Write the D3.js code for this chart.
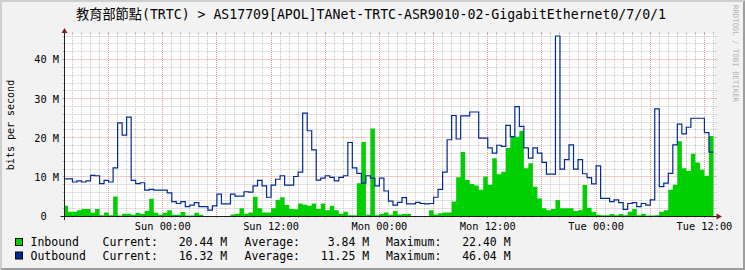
<!DOCTYPE html>
<html><head><meta charset="utf-8">
<script src="https://cdn.jsdelivr.net/npm/d3@7"></script>
<style>html,body{margin:0;padding:0;background:#F2F2F2;} svg{display:block;} text{white-space:pre;}</style>
</head><body><svg id="c" width="745" height="270"></svg>
<script>
// ---------- data ----------
const title = "教育部節點(TRTC) > AS17709[APOL]TANet-TRTC-ASR9010-02-GigabitEthernet0/7/0/1";
const yAxisTitle = "bits per second";
const watermark = "RRDTOOL / TOBI OETIKER";
const seriesNames = ["Inbound", "Outbound"];
const seriesColors = ["#00CF00", "#002A97"];
const firstSample = "2022-12-31T13:00:00Z";   // Sat 13:00, 30-minute samples
const stepMinutes = 30;
const viewStart = "2022-12-31T13:07:00Z";
const viewHours = 72;
const yMax = 46.55;                          // Mbit/s at top of canvas
const yMajorTicks = [0, 10, 20, 30, 40];
const yMinorStep = 2;
// Mbit/s
const inbound = [
 2.6,1.1,1.1,1.5,1.8,1.8,0.8,1.8,0.2,0.9,0.2,5.0,0.1,0.6,0.6,0.3,0.8,0.5,1.3,4.4,
 0.8,0.3,0.8,1.5,0.3,0.3,1.0,0.1,0.1,0.8,0.3,0,0,0,0,0,0,0.4,0.6,2.0,
 0.6,0.9,4.9,2.0,0.9,0.9,2.0,4.1,4.8,2.8,1.8,1.7,3.2,2.9,2.6,3.2,1.8,3.2,1.5,2.6,
 1.5,0.6,1.1,0.2,0.2,8.4,18.9,0.3,22.4,0.2,0.6,0.9,0.3,1.3,0.4,0.5,0.5,0,0,0,
 0,1.5,0.4,0.7,0.9,0.9,3.7,9.9,16.4,9.2,8.2,7.8,6.7,10.1,8.0,14.8,10.7,11.3,17.4,20.2,
 20.3,21.8,12.2,13.5,7.5,4.5,2.0,1.5,1.8,4.1,2.0,2.0,2.0,1.3,1.5,7.9,2.1,1.1,0.3,0.2,
 0.2,0.5,0.2,0.5,0.2,1.1,1.8,0.2,0.6,0.1,0.1,0.2,1.1,1.5,6.7,8.0,19.1,12.2,11.5,15.9,
 13.7,11.8,10.3,20.44
];
const outbound = [
 9.5,9.5,8.7,9.0,8.7,9.0,10.4,10.3,8.3,9.1,8.7,12.3,23.8,20.7,25.3,9.1,8.3,8.5,6.6,6.8,
 6.6,6.6,6.6,5.9,3.7,3.2,3.7,2.4,2.8,3.4,2.4,2.4,1.5,2.6,5.6,3.1,3.1,5.6,5.1,5.1,
 6.2,6.1,7.7,9.1,7.7,4.8,7.9,9.4,10.3,7.9,7.9,10.1,11.2,26.3,21.8,16.9,9.2,9.7,10.3,9.9,
 9.0,9.9,10.3,18.8,12.3,10.9,8.4,10.3,9.7,7.7,9.7,6.4,3.8,2.8,3.5,4.7,3.1,3.1,3.5,3.2,
 3.1,3.2,4.8,6.8,11.2,19.5,25.7,19.7,25.6,25.6,26.6,26.6,19.9,19.9,17.4,16.1,18.1,17.8,23.2,20.3,
 28.0,22.9,17.4,14.8,17.4,16.1,13.7,10.7,10.7,46.04,12.0,14.4,18.2,12.0,14.4,10.8,9.8,8.2,12.8,4.5,
 4.5,3.7,4.1,3.4,1.7,3.2,3.4,2.4,3.2,2.8,4.1,27.4,7.5,8.4,10.9,18.2,23.5,21.0,22.7,25.0,
 25.0,25.0,21.3,16.32
];
const statLabels = ["Current:", "Average:", "Maximum:"];
const inboundStats = [20.44, 3.84, 22.40];
const outboundStats = [16.32, 11.25, 46.04];

// ---------- layout ----------
const X0 = 64.5, X1 = 714.5, Y0 = 216, Y1 = 34;
const mono = '"DejaVu Sans Mono","Noto Sans CJK TC",monospace';
const svg = d3.select("#c");

const t0 = new Date(viewStart);
const t1 = new Date(t0.getTime() + viewHours * 3600e3);
const x = d3.scaleUtc().domain([t0, t1]).range([X0, X1]);
const y = d3.scaleLinear().domain([0, yMax]).range([Y0, Y1]);

const s0 = new Date(firstSample).getTime();
const times = d3.range(inbound.length + 1).map(i => new Date(s0 + i * stepMinutes * 60e3));
const pts = arr => times.map((t, i) => ({t, v: arr[Math.min(i, arr.length - 1)]}));

// background + shading frame
svg.append("rect").attr("width", 745).attr("height", 270).attr("fill", "#F2F2F2");
svg.append("path").attr("d", "M0,0H745L743,2H2V268L0,270Z").attr("fill", "#CFCFCF");
svg.append("path").attr("d", "M745,0V270H0L2,268H743V2Z").attr("fill", "#9E9E9E");

// canvas
svg.append("rect").attr("x", X0).attr("y", Y1).attr("width", X1 - X0).attr("height", Y0 - Y1).attr("fill", "#fff");
svg.append("clipPath").attr("id", "clip").append("rect")
  .attr("x", X0).attr("y", Y1 - 2).attr("width", X1 - X0).attr("height", Y0 - Y1 + 2);

const crisp = v => Math.floor(v) + 0.5;
const grid = svg.append("g");
// vertical grid
const hours = d3.utcHour.range(d3.utcHour.ceil(t0), t1);
hours.forEach(h => {
  const major = h.getUTCHours() % 6 === 0;
  const xx = crisp(x(h));
  grid.append("line").attr("x1", xx).attr("x2", xx).attr("y1", Y1).attr("y2", Y0)
    .attr("stroke", major ? "#E99595" : "#C4C4C4").attr("stroke-dasharray", "1,1");
  grid.append("line").attr("x1", xx).attr("x2", xx).attr("y1", Y0).attr("y2", Y0 + 2)
    .attr("stroke", major ? "#E99595" : "#C4C4C4");
  grid.append("line").attr("x1", xx).attr("x2", xx).attr("y1", Y1 - 2).attr("y2", Y1)
    .attr("stroke", major ? "#E99595" : "#C4C4C4");
});
// horizontal grid
d3.range(yMinorStep, yMax, yMinorStep).forEach(v => {
  const major = v % 10 === 0;
  const yy = crisp(y(v));
  grid.append("line").attr("x1", X0).attr("x2", X1).attr("y1", yy).attr("y2", yy)
    .attr("stroke", major ? "#E99595" : "#C4C4C4").attr("stroke-dasharray", "1,1");
  grid.append("line").attr("x1", X0 - 2).attr("x2", X0).attr("y1", yy).attr("y2", yy)
    .attr("stroke", major ? "#E99595" : "#C4C4C4");
  grid.append("line").attr("x1", X1).attr("x2", X1 + 2).attr("y1", yy).attr("y2", yy)
    .attr("stroke", major ? "#E99595" : "#C4C4C4");
});

// series
const plot = svg.append("g").attr("clip-path", "url(#clip)");
const area = d3.area().x(d => x(d.t)).y0(y(0)).y1(d => y(d.v)).curve(d3.curveStepAfter);
const line = d3.line().x(d => x(d.t)).y(d => y(d.v)).curve(d3.curveStepAfter);
plot.append("path").attr("d", area(pts(inbound))).attr("fill", seriesColors[0]);
plot.append("path").attr("d", line(pts(outbound))).attr("fill", "none")
  .attr("stroke", seriesColors[1]).attr("stroke-width", 1.2);

// axes
const axisCol = "#1F1F1F", arrowCol = "#801F1F";
svg.append("line").attr("x1", X0 - 4).attr("x2", X1 + 3).attr("y1", Y0 + 0.5).attr("y2", Y0 + 0.5).attr("stroke", axisCol);
svg.append("line").attr("x1", X0).attr("x2", X0).attr("y1", Y0 + 4).attr("y2", Y1 - 3).attr("stroke", axisCol);
svg.append("path").attr("d", `M${X1 + 2},${Y0 - 2.5}L${X1 + 7.5},${Y0 + 0.5}L${X1 + 2},${Y0 + 3.5}Z`).attr("fill", arrowCol);
svg.append("path").attr("d", `M${X0 - 3},${Y1 - 1}L${X0},${Y1 - 6}L${X0 + 3},${Y1 - 1}Z`).attr("fill", arrowCol);

// y labels
const axisFont = 10.3, cw = axisFont * 0.602;
yMajorTicks.forEach(v => {
  svg.append("text").attr("x", v === 0 ? 59 - 2 * cw : 59).attr("y", y(v) + 3.8)
    .attr("text-anchor", "end").attr("font-family", mono).attr("font-size", axisFont)
    .attr("fill", "#000").text(v === 0 ? "0" : v + " M");
});
// x labels
const fmt = d3.utcFormat("%a %H:%M");
hours.filter(h => h.getUTCHours() % 12 === 0).forEach(h => {
  svg.append("text").attr("x", x(h)).attr("y", 229.5).attr("text-anchor", "middle")
    .attr("font-family", mono).attr("font-size", axisFont).attr("fill", "#000").text(fmt(h));
});

// y-axis title
svg.append("text").attr("transform", `translate(14,${(Y0 + Y1) / 2}) rotate(-90)`)
  .attr("text-anchor", "middle").attr("font-family", mono).attr("font-size", 10)
  .attr("fill", "#000").text(yAxisTitle);

// title
svg.append("text").attr("x", 371).attr("y", 19).attr("text-anchor", "middle")
  .attr("font-family", mono).attr("font-size", 13.2).attr("fill", "#000").text(title);

// watermark
svg.append("text").attr("transform", "translate(732.5,5) rotate(90)")
  .attr("font-family", mono).attr("font-size", 7.6).attr("fill", "#B4B4B4")
  .attr("textLength", 97).attr("lengthAdjust", "spacingAndGlyphs").text(watermark);

// legend
const legFont = 11.5;
const rows = [inboundStats, outboundStats];
const rowY = [246, 259.5];
const statX = [102.5, 244.6, 386];
rows.forEach((stats, r) => {
  svg.append("rect").attr("x", 15.5).attr("y", rowY[r] - 7.5).attr("width", 7).attr("height", 7)
    .attr("fill", seriesColors[r]).attr("stroke", "#000").attr("stroke-width", 1);
  svg.append("text").attr("x", 30.5).attr("y", rowY[r]).attr("font-family", mono)
    .attr("font-size", legFont).attr("fill", "#000").text(seriesNames[r]);
  stats.forEach((v, k) => {
    const num = v.toFixed(2).padStart(8, " ");
    svg.append("text").attr("x", statX[k]).attr("y", rowY[r]).attr("font-family", mono)
      .attr("font-size", legFont).attr("fill", "#000").attr("xml:space", "preserve")
      .text(statLabels[k] + num + " M");
  });
});
</script>
</body></html>
